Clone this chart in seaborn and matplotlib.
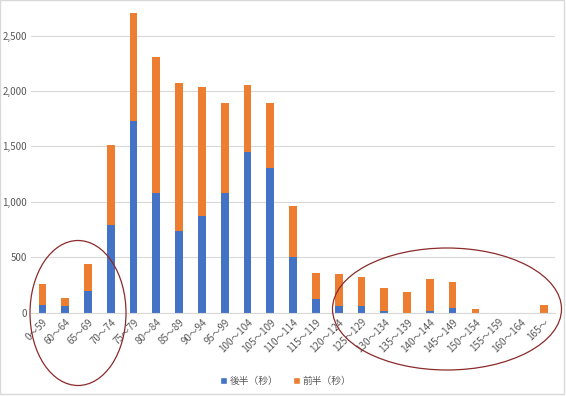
import matplotlib
matplotlib.use("Agg")
import matplotlib.pyplot as plt
import seaborn as sns
import pandas as pd
from matplotlib.patches import Ellipse, Rectangle, Patch

categories = ["0～59", "60～64", "65～69", "70～74", "75～79", "80～84", "85～89",
              "90～94", "95～99", "100～104", "105～109", "110～114", "115～119",
              "120～124", "125～129", "130～134", "135～139", "140～144", "145～149",
              "150～154", "155～159", "160～164", "165～"]
kouhan = [72, 63, 199, 794, 1733, 1078, 737, 870, 1078, 1453, 1309, 505, 121,
          60, 60, 15, 0, 18, 45, 0, 0, 0, 0]
zenhan = [187, 72, 237, 719, 967, 1232, 1339, 1170, 812, 599, 581, 458, 235,
          289, 259, 208, 190, 289, 232, 33, 0, 0, 72]
series_names = ["後半（秒）", "前半（秒）"]
yticks = [0, 500, 1000, 1500, 2000, 2500]

sns.set_theme(style="white")
plt.rcParams['font.family'] = ['Noto Sans CJK JP', 'DejaVu Sans']

df = pd.DataFrame({"cat": categories, "kouhan": kouhan, "zenhan": zenhan})
df["total"] = df["kouhan"] + df["zenhan"]

blue = "#4472C4"
orange = "#ED7D31"
txtc = "#595959"

fig = plt.figure(figsize=(5.66, 3.96), dpi=100)
ax = fig.add_axes([0.0548, 0.2104, 0.926, 0.7897])

sns.barplot(data=df, x="cat", y="total", color=orange, width=0.34,
            saturation=1, ax=ax, order=categories, linewidth=0, edgecolor="none")
sns.barplot(data=df, x="cat", y="kouhan", color=blue, width=0.34,
            saturation=1, ax=ax, order=categories, linewidth=0, edgecolor="none")

ax.set_ylim(0, 2822)
ax.set_xlim(-0.5, len(categories) - 0.5)
ax.set_yticks(yticks)
ax.set_yticklabels([f"{v:,}" for v in yticks], color=txtc, fontsize=7)
ax.set_xticks(range(len(categories)))
ax.set_xticklabels(categories, rotation=45, ha="right", rotation_mode="anchor",
                   color=txtc, fontsize=7)
ax.tick_params(axis="both", length=0, pad=3)
ax.set_xlabel("")
ax.set_ylabel("")
ax.yaxis.grid(True, color="#D9D9D9", linewidth=0.8)
ax.set_axisbelow(True)
for s in ["top", "right", "left"]:
    ax.spines[s].set_visible(False)
ax.spines["bottom"].set_color("#D9D9D9")
ax.spines["bottom"].set_linewidth(0.8)

handles = [Patch(facecolor=blue, label=series_names[0]),
           Patch(facecolor=orange, label=series_names[1])]
fig.legend(handles=handles, loc="center", bbox_to_anchor=(0.505, 0.038),
           ncol=2, frameon=False, fontsize=7, handlelength=0.7,
           handleheight=0.7, handletextpad=0.3, columnspacing=1.5,
           labelcolor=txtc)

W, H = 566, 396
ell_color = "#8B2B2B"
e1 = Ellipse((78 / W, 1 - 313 / H), 96 / W, 145 / H, transform=fig.transFigure,
             fill=False, edgecolor=ell_color, linewidth=0.9)
e2 = Ellipse((447 / W, 1 - 309 / H), 229 / W, 122 / H, transform=fig.transFigure,
             fill=False, edgecolor=ell_color, linewidth=0.9)
fig.patches.extend([e1, e2])
fig.patches.append(Rectangle((0, 0.005), 0.997, 0.995, transform=fig.transFigure,
                             fill=False, edgecolor="#D9D9D9", linewidth=1))

fig.savefig("out.png", dpi=100)
